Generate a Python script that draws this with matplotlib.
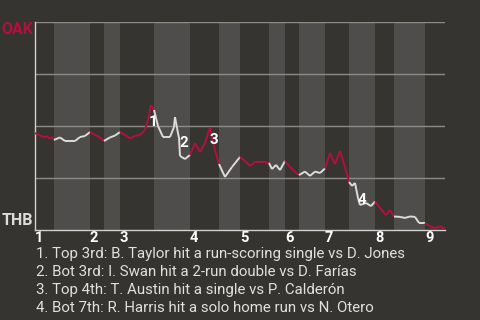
import numpy as np
import matplotlib
matplotlib.use("Agg")
import matplotlib.pyplot as plt

plt.rcParams["font.family"] = ["Roboto", "DejaVu Sans"]

# game progress (arbitrary play units) and OAK win probability (%)
progress = [0, 5, 10, 12, 15, 17, 19, 25, 30, 40, 45, 50, 55, 60, 65, 69, 75, 80, 85,
            90, 95, 100, 105, 110, 113, 116, 119, 123, 128, 135, 139, 140, 142, 144, 145,
            150, 155, 160, 165, 170, 175, 180, 184, 190, 197, 205, 210, 215, 220, 225,
            230, 234, 237, 241, 245, 250, 255, 260, 264, 270, 275, 280, 285, 290, 295,
            300, 305, 310, 314, 317, 320, 323, 325, 331, 336, 340, 345, 351, 355, 359,
            365, 370, 375, 380, 384, 390, 395, 400, 405, 410]
oak_wp = [46.6, 45.4, 44.5, 45.2, 43.8, 44.7, 43.3, 44.5, 42.8, 42.8, 44.7, 45.2, 47.1,
          45.7, 44.5, 42.8, 44.5, 45.4, 47.1, 45.7, 44.0, 45.2, 45.7, 48.1, 52.9, 60.1,
          57.7, 50.0, 44.7, 44.7, 49.5, 54.3, 49.0, 44.2, 35.6, 34.1, 36.1, 41.8, 37.5,
          41.8, 49.5, 38.5, 31.7, 25.5, 30.3, 35.1, 33.2, 30.8, 32.7, 32.7, 32.7, 32.2,
          29.3, 31.3, 28.8, 33.2, 30.3, 27.9, 26.4, 28.1, 26.0, 28.1, 27.4, 29.6, 37.0,
          31.7, 38.0, 30.3, 23.1, 21.2, 22.6, 15.4, 12.0, 13.0, 11.5, 13.7, 10.6, 7.2,
          9.6, 6.5, 6.3, 5.8, 6.5, 6.3, 3.4, 3.4, 1.7, 1.0, 1.7, 0.7]

# half-inning boundaries (top, bottom, top, bottom, ...)
half_bounds = [0, 19, 55, 69, 85, 119, 155, 184, 205, 234, 250, 264, 290, 314, 340,
               359, 390, 410]
innings = ["1", "2", "3", "4", "5", "6", "7", "8", "9"]

# key plays
event_x = [118, 149, 179, 327]
event_y = [51.9, 41.8, 43.3, 14.4]
event_lbl = ["1", "2", "3", "4"]
notes = ["1. Top 3rd: B. Taylor hit a run-scoring single vs D. Jones",
         "2. Bot 3rd: I. Swan hit a 2-run double vs D. Farías",
         "3. Top 4th: T. Austin hit a single vs P. Calderón",
         "4. Bot 7th: R. Harris hit a solo home run vs N. Otero"]

bg = "#363430"
band = "#4e4d4b"
red = "#b3113c"
white = "#dcdcdc"

fig = plt.figure(figsize=(4.8, 3.2), dpi=100, facecolor=bg)
ax = fig.add_axes([35/480, 90/320, 410/480, 208/320])
ax.set_facecolor(bg)
ax.set_xlim(0, 410)
ax.set_ylim(0, 100)

# bottom halves shaded
for i in range(1, len(half_bounds) - 1, 2):
    ax.axvspan(half_bounds[i], half_bounds[i + 1], color=band, lw=0, zorder=0)

for g in [25, 50, 75, 100]:
    ax.axhline(g, color="#8c8b88", lw=1, zorder=1)

x = np.array(progress)
y = np.array(oak_wp)
for k in range(len(x) - 1):
    mid = (x[k] + x[k + 1]) / 2
    half = np.searchsorted(half_bounds, mid) - 1
    c = red if half % 2 == 0 else white
    ax.plot(x[k:k + 2], y[k:k + 2], color=c, lw=1.4, solid_capstyle="butt", zorder=3)

for ex, ey, lb in zip(event_x, event_y, event_lbl):
    ax.text(ex, ey, lb, color="white", fontsize=11, fontweight="bold",
            ha="center", va="center", zorder=4)

for s in ["top", "right"]:
    ax.spines[s].set_visible(False)
for s in ["left", "bottom"]:
    ax.spines[s].set_color("#d0d0d0")
    ax.spines[s].set_linewidth(1)

ax.set_yticks([])
ax.set_xticks(half_bounds[0:-1:2])
ax.set_xticklabels(innings, color="white", fontsize=10.5, fontweight="bold", ha="left")
ax.tick_params(axis="x", length=0, pad=1)

ax.text(-1.5, 100, "OAK", color=red, fontsize=11.5,
        fontweight="bold", ha="right", va="top", clip_on=False)
ax.text(-1.5, 2.3, "THB", color="#dcdcdc", fontsize=11.5,
        fontweight="bold", ha="right", va="baseline", clip_on=False)

for i, line in enumerate(notes):
    fig.text(36/480, (320 - 258 - 18 * i) / 320, line, color="#e0e0e0",
             fontsize=10.8, ha="left", va="baseline")

fig.savefig("out.png", dpi=100, facecolor=bg)
